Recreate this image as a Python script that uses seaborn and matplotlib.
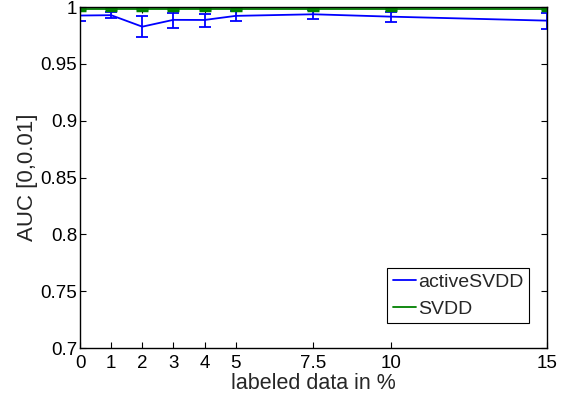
import matplotlib
matplotlib.use('Agg')
import matplotlib.pyplot as plt
import numpy as np
import pandas as pd
import seaborn as sns

etiquetado = [0, 1, 2, 3, 4, 5, 7.5, 10, 15]

auc_active = [0.9925, 0.9928, 0.9827, 0.9887, 0.9886, 0.9922, 0.9936, 0.9915, 0.9880]
err_active_sup = [0.9968, 0.9955, 0.9918, 0.9947, 0.9940, 0.9965, 0.9970, 0.9960, 0.9950]
err_active_inf = [0.9880, 0.9900, 0.9736, 0.9818, 0.9824, 0.9880, 0.9894, 0.9865, 0.9806]

auc_svdd = [0.9982, 0.9982, 0.9982, 0.9982, 0.9982, 0.9982, 0.9982, 0.9982, 0.9982]
err_svdd = [0.0008, 0.0008, 0.0008, 0.0008, 0.0008, 0.0008, 0.0008, 0.0008, 0.0008]

sns.set_style('ticks')
plt.rcParams['font.family'] = ['Liberation Sans', 'DejaVu Sans']

df = pd.DataFrame({
    'x': etiquetado * 2,
    'auc': auc_active + auc_svdd,
    'metodo': ['activeSVDD'] * len(etiquetado) + ['SVDD'] * len(etiquetado),
})

figura = plt.figure(figsize=(5.69, 3.98), dpi=100)
ax = figura.add_axes([0.1406, 0.1256, 0.8207, 0.8568])

colores = {'activeSVDD': '#0000ff', 'SVDD': '#008000'}

yerr_active = [np.array(auc_active) - np.array(err_active_inf),
               np.array(err_active_sup) - np.array(auc_active)]
ax.errorbar(etiquetado, auc_active, yerr=yerr_active, fmt='none',
            ecolor=colores['activeSVDD'], elinewidth=1.3, capsize=4, capthick=1.3)
ax.errorbar(etiquetado, auc_svdd, yerr=err_svdd, fmt='none',
            ecolor=colores['SVDD'], elinewidth=2.5, capsize=4, capthick=2.5)

sns.lineplot(data=df, x='x', y='auc', hue='metodo', palette=colores, ax=ax,
             linewidth=1.3, legend=True)

ax.set_xlim(0, 15)
ax.set_ylim(0.7, 1.0)
ax.set_xticks(etiquetado)
ax.set_xticklabels(['0', '1', '2', '3', '4', '5', '7.5', '10', '15'])
ax.set_yticks([0.7, 0.75, 0.8, 0.85, 0.9, 0.95, 1.0])
ax.set_yticklabels(['0.7', '0.75', '0.8', '0.85', '0.9', '0.95', '1'])
ax.tick_params(direction='in', top=True, right=True, labelsize=13.5, length=4,
               width=0.8, colors='black')
ax.tick_params(axis='x', pad=5)
ax.tick_params(axis='y', pad=2)
for s in ax.spines.values():
    s.set_linewidth(1.0)
    s.set_color('black')

ax.set_xlabel('labeled data in %', fontsize=15.5, labelpad=1)
ax.set_ylabel('AUC [0,0.01]', fontsize=16, labelpad=2)

leg = ax.legend(loc='lower right', bbox_to_anchor=(0.962, 0.072), fontsize=14,
                frameon=True, fancybox=False, edgecolor='black', framealpha=1,
                handlelength=1.2, handletextpad=0.1, borderpad=0.3,
                labelspacing=0.45, borderaxespad=0)
leg.get_frame().set_linewidth(0.8)
leg.set_title(None)

figura.savefig('out.png', dpi=100)
